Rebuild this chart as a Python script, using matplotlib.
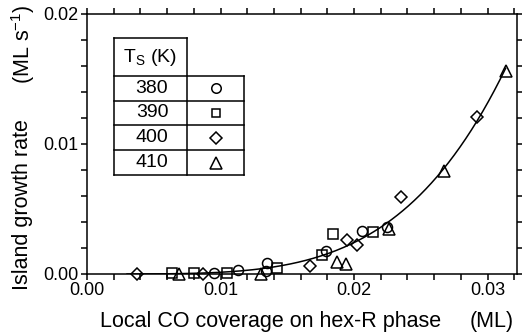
import numpy as np
import matplotlib
matplotlib.use("Agg")
import matplotlib.pyplot as plt
from matplotlib.lines import Line2D

plt.rcParams['font.family'] = ['Liberation Sans', 'DejaVu Sans']
plt.rcParams['mathtext.fontset'] = 'custom'
plt.rcParams['mathtext.rm'] = 'Liberation Sans'
plt.rcParams['mathtext.it'] = 'Liberation Sans'

# ---- data ----
temps = ["380", "390", "400", "410"]
markers = ["o", "s", "D", "^"]

x_380 = [0.0095, 0.0113, 0.0134, 0.0135, 0.0179, 0.0206, 0.0225]
y_380 = [0.0001, 0.0003, 0.0002, 0.00085, 0.0018, 0.0033, 0.0036]

x_390 = [0.0064, 0.0080, 0.0105, 0.01425, 0.0176, 0.01845, 0.0214]
y_390 = [0.0001, 0.0001, 0.0001, 0.0005, 0.0015, 0.0031, 0.0032]

x_400 = [0.00375, 0.0087, 0.0167, 0.0195, 0.0202, 0.02355, 0.0292]
y_400 = [0.0000, 0.0000, 0.0006, 0.0026, 0.0022, 0.0059, 0.0121]

x_410 = [0.0069, 0.0130, 0.0187, 0.0194, 0.0226, 0.0267, 0.03135]
y_410 = [0.0000, 0.0000, 0.0009, 0.0008, 0.0035, 0.0079, 0.0156]

xs = [x_380, x_390, x_400, x_410]
ys = [y_380, y_390, y_400, y_410]
ms = [7.2, 6.5, 6.6, 8.4]

x_ticklabels = ["0.00", "0.01", "0.02", "0.03"]
y_ticklabels = ["0.00", "0.01", "0.02"]

W, H = 522, 333
fig = plt.figure(figsize=(W / 100, H / 100), dpi=100)
L, R, T, B = 87, 517, 14, 274
ax = fig.add_axes([L / W, 1 - B / H, (R - L) / W, (B - T) / H])

lw = 1.1
for x, y, m, s in zip(xs, ys, markers, ms):
    ax.plot(x, y, linestyle='none', marker=m, ms=s, mfc='none', mec='black', mew=1.1,
            clip_on=False, zorder=3)

# power-law fit curve derived from the data
allx = np.concatenate([np.array(v) for v in xs])
ally = np.concatenate([np.array(v) for v in ys])
best = None
for n in np.linspace(2, 8, 601):
    a = np.sum(ally * allx ** n) / np.sum(allx ** (2 * n))
    sse = np.sum((ally - a * allx ** n) ** 2)
    if best is None or sse < best[0]:
        best = (sse, a, n)
_, fa, fn = best
xc = np.linspace(0.003, max(x_410), 200)
ax.plot(xc, fa * xc ** fn, color='black', lw=lw, zorder=2)

ax.set_xlim(0, 0.0322)
ax.set_ylim(0, 0.02)
ax.set_xticks([0.0, 0.01, 0.02, 0.03])
ax.set_xticklabels(x_ticklabels)
ax.set_xticks(np.arange(0, 0.0321, 0.002), minor=True)
ax.set_yticks([0.0, 0.01, 0.02])
ax.set_yticklabels(y_ticklabels)
ax.set_yticks(np.arange(0, 0.0201, 0.002), minor=True)
for which in ('major', 'minor'):
    ax.tick_params(which=which, direction='out', length=4, width=lw,
                   top=True, right=True, labeltop=False, labelright=False)
ax.tick_params(which='major', labelsize=13, pad=2)
for sp in ax.spines.values():
    sp.set_linewidth(lw)

# axis labels
fig.text(271 / W, 1 - 322 / H, "Local CO coverage on hex-R phase", ha='center', va='center', fontsize=15.5)
fig.text(492 / W, 1 - 322 / H, "(ML)", ha='center', va='center', fontsize=15.5)
fig.text(23 / W, 1 - 205 / H, "Island growth rate", ha='center', va='center', fontsize=15.5, rotation=90)
fig.text(23 / W, 1 - 44 / H, "(ML s$^{-1}$)", ha='center', va='center', fontsize=15.5, rotation=90)

# legend table
def fx(px):
    return px / W

def fy(py):
    return 1 - py / H

def seg(x0, y0, x1, y1):
    fig.add_artist(Line2D([fx(x0), fx(x1)], [fy(y0), fy(y1)], transform=fig.transFigure,
                          color='black', lw=lw))

c0, c1, c2 = 114, 187, 244
rows = [38, 76, 100.5, 125, 150, 175]
seg(c0, rows[0], c1, rows[0])
for r in rows[1:]:
    seg(c0, r, c2, r)
seg(c0, rows[0], c0, rows[-1])
seg(c1, rows[0], c1, rows[-1])
seg(c2, rows[1], c2, rows[-1])

fig.text(fx(150), fy(58), "T$_\\mathrm{S}$ (K)", ha='center', va='center', fontsize=14)
for i, (t, m, s) in enumerate(zip(temps, markers, ms)):
    yc = (rows[i + 1] + rows[i + 2]) / 2
    fig.text(fx(152), fy(yc), t, ha='center', va='center', fontsize=14)
    fig.add_artist(Line2D([fx(216)], [fy(yc)], transform=fig.transFigure, linestyle='none',
                          marker=m, ms=s * 0.95, mfc='none', mec='black', mew=1.1))

fig.savefig("out.png", dpi=100)
